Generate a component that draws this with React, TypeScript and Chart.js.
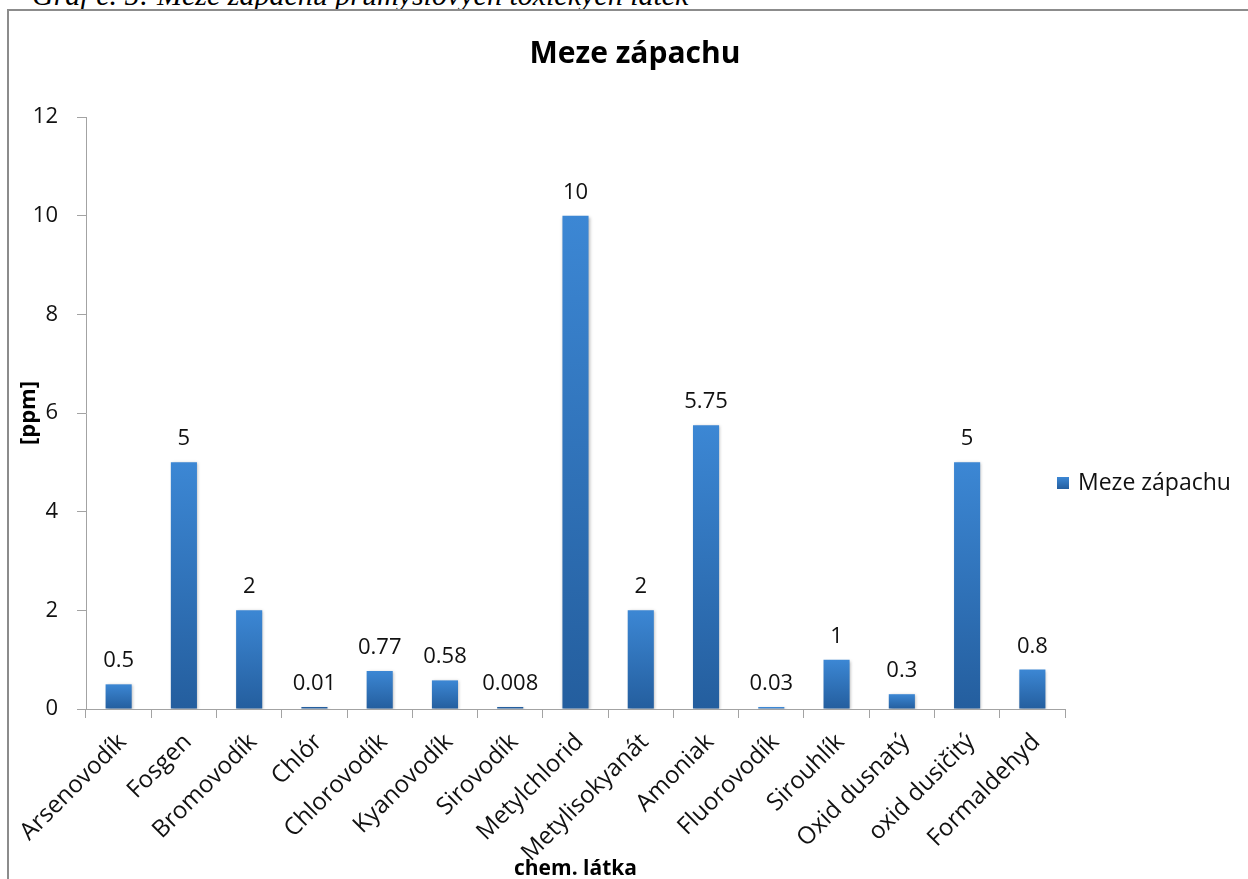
import React, { useEffect, useRef } from "react";
import { Chart, registerables } from "chart.js";

Chart.register(...registerables);

const categories: string[] = [
  "Arsenovodík",
  "Fosgen",
  "Bromovodík",
  "Chlór",
  "Chlorovodík",
  "Kyanovodík",
  "Sirovodík",
  "Metylchlorid",
  "Metylisokyanát",
  "Amoniak",
  "Fluorovodík",
  "Sirouhlík",
  "Oxid dusnatý",
  "oxid dusičitý",
  "Formaldehyd",
];

const odourThreshold: number[] = [0.5, 5, 2, 0.01, 0.77, 0.58, 0.008, 10, 2, 5.75, 0.03, 1, 0.3, 5, 0.8];
const valueLabels: string[] = ["0.5", "5", "2", "0.01", "0.77", "0.58", "0.008", "10", "2", "5.75", "0.03", "1", "0.3", "5", "0.8"];

const seriesName = "Meze zápachu";
const chartTitle = "Meze zápachu";
const yAxisTitle = "[ppm]";
const xAxisTitle = "chem. látka";
const caption = "Graf č. 5: Meze zápachu průmyslových toxických látek";

const FONT = "'Open Sans', sans-serif";
const TOP_COLOR = "#3C87D4";
const BOTTOM_COLOR = "#245E9E";

export default function App() {
  const canvasRef = useRef<HTMLCanvasElement | null>(null);

  useEffect(() => {
    const canvas = canvasRef.current;
    if (!canvas) return;

    const extrasPlugin = {
      id: "extras",
      beforeDatasetsDraw(chart: any) {
        const ctx = chart.ctx;
        ctx.save();
        ctx.shadowColor = "rgba(0,0,0,0.28)";
        ctx.shadowBlur = 3;
        ctx.shadowOffsetX = 1;
        ctx.shadowOffsetY = 1;
      },
      afterDatasetsDraw(chart: any) {
        const ctx = chart.ctx;
        ctx.restore();
        const meta = chart.getDatasetMeta(0);
        ctx.save();
        ctx.font = `22px ${FONT}`;
        ctx.fillStyle = "#111";
        ctx.textAlign = "center";
        ctx.textBaseline = "alphabetic";
        meta.data.forEach((el: any, i: number) => {
          ctx.fillText(valueLabels[i], el.x, el.y - 17);
        });
        ctx.restore();
      },
      afterDraw(chart: any) {
        const ctx = chart.ctx;
        ctx.save();
        // chart title
        ctx.font = `bold 30px ${FONT}`;
        ctx.fillStyle = "#000";
        ctx.textAlign = "center";
        ctx.textBaseline = "middle";
        ctx.fillText(chartTitle, 635, 54);
        // legend
        const g = ctx.createLinearGradient(0, 477, 0, 489);
        g.addColorStop(0, TOP_COLOR);
        g.addColorStop(1, BOTTOM_COLOR);
        ctx.fillStyle = g;
        ctx.fillRect(1057, 477, 12, 12);
        ctx.font = `23px ${FONT}`;
        ctx.fillStyle = "#111";
        ctx.textAlign = "left";
        ctx.textBaseline = "middle";
        ctx.fillText(seriesName, 1078, 483);
        ctx.restore();
      },
    };

    const chart = new Chart(canvas, {
      type: "bar",
      data: {
        labels: categories,
        datasets: [
          {
            label: seriesName,
            data: odourThreshold,
            barPercentage: 0.4,
            categoryPercentage: 1,
            minBarLength: 2,
            borderWidth: 0,
            backgroundColor: (c: any) => {
              const chart = c.chart;
              const y = chart.scales && chart.scales.y;
              if (!y || c.parsed == null || c.type !== "data") return TOP_COLOR;
              const top = y.getPixelForValue(c.parsed.y);
              const bottom = y.getPixelForValue(0);
              if (!isFinite(top) || !isFinite(bottom) || bottom - top < 1) return BOTTOM_COLOR;
              const g = chart.ctx.createLinearGradient(0, top, 0, bottom);
              g.addColorStop(0, TOP_COLOR);
              g.addColorStop(1, BOTTOM_COLOR);
              return g;
            },
          },
        ],
      },
      options: {
        responsive: false,
        animation: false,
        devicePixelRatio: 1,
        layout: { padding: { left: 0, right: 183, top: 117, bottom: 0 } },
        plugins: {
          legend: { display: false },
          title: { display: false },
          tooltip: { enabled: false },
        },
        scales: {
          x: {
            offset: true,
            grid: {
              display: true,
              drawOnChartArea: false,
              drawTicks: true,
              tickLength: 9,
              offset: true,
              color: "#A3A3A3",
            },
            border: { display: true, color: "#A3A3A3", width: 1 },
            ticks: {
              autoSkip: false,
              minRotation: 45,
              maxRotation: 45,
              padding: 10,
              labelOffset: 4,
              color: "#111",
              font: { family: FONT, size: 24 },
            },
            title: {
              display: true,
              text: xAxisTitle,
              color: "#000",
              font: { family: FONT, size: 21, weight: "bold" },
              padding: { top: 0, bottom: -3 },
            },
            afterFit: (scale: any) => {
              scale.height = 170;
            },
          },
          y: {
            min: 0,
            max: 12,
            grid: {
              display: true,
              drawOnChartArea: false,
              drawTicks: true,
              tickLength: 9,
              color: "#A3A3A3",
            },
            border: { display: true, color: "#A3A3A3", width: 1 },
            ticks: {
              stepSize: 2,
              padding: 19,
              color: "#111",
              font: { family: FONT, size: 22 },
            },
            title: {
              display: true,
              text: yAxisTitle,
              color: "#000",
              font: { family: FONT, size: 22, weight: "bold" },
              padding: { top: 16, bottom: 0 },
            },
            afterFit: (scale: any) => {
              scale.width = 86;
            },
          },
        },
      },
      plugins: [extrasPlugin],
    } as any);

    return () => {
      chart.destroy();
    };
  }, []);

  return (
    <div
      style={{
        position: "fixed",
        left: 0,
        top: 0,
        width: 1248,
        height: 879,
        overflow: "hidden",
        background: "#fff",
      }}
    >
      <div
        style={{
          position: "absolute",
          left: 32,
          top: -20,
          fontFamily: "'Liberation Serif', serif",
          fontStyle: "italic",
          fontSize: 30,
          lineHeight: "30px",
          whiteSpace: "nowrap",
          color: "#000",
        }}
      >
        {caption}
      </div>
      <div
        style={{
          position: "absolute",
          left: 7,
          top: 9,
          width: 1300,
          height: 1000,
          borderLeft: "2px solid #8C8C8C",
          borderTop: "2px solid #8C8C8C",
        }}
      />
      <canvas
        ref={canvasRef}
        width={1248}
        height={879}
        style={{ position: "absolute", left: 0, top: 0, width: 1248, height: 879 }}
      />
    </div>
  );
}
